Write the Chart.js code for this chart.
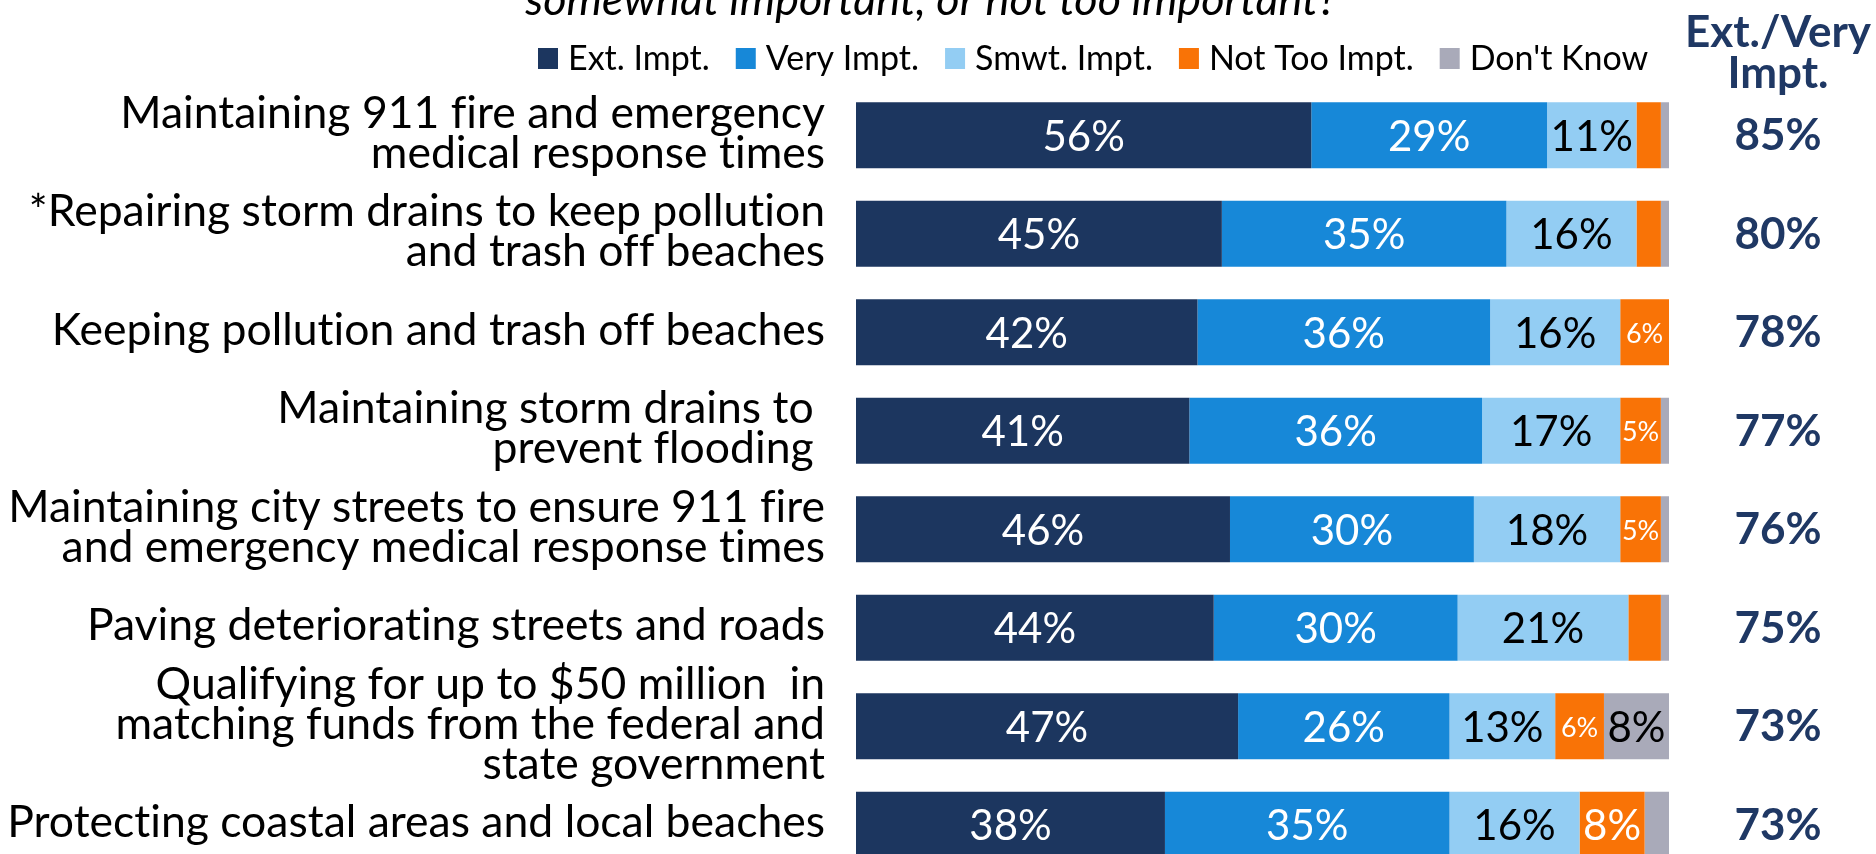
<!DOCTYPE html>
<html>
<head>
<meta charset="utf-8">
<script src="https://cdn.jsdelivr.net/npm/chart.js@4"></script>
<style>
  html, body { margin: 0; padding: 0; background: #fff; overflow: hidden; }
  #wrap { width: 1876px; height: 854px; overflow: hidden; }
</style>
</head>
<body>
<div id="wrap"><canvas id="chart" width="1876" height="880"></canvas></div>
<script>
// values
const categories = [
  ['Maintaining 911 fire and emergency', 'medical response times'],
  ['*Repairing storm drains to keep pollution', 'and trash off beaches'],
  ['Keeping pollution and trash off beaches'],
  ['Maintaining storm drains to ', 'prevent flooding '],
  ['Maintaining city streets to ensure 911 fire', 'and emergency medical response times'],
  ['Paving deteriorating streets and roads'],
  ['Qualifying for up to $50 million  in', 'matching funds from the federal and', 'state government'],
  ['Protecting coastal areas and local beaches'],
];
const seriesNames = ['Ext. Impt.', 'Very Impt.', 'Smwt. Impt.', 'Not Too Impt.', "Don't Know"];
const extImpt    = [56, 45, 42, 41, 46, 44, 47, 38];
const veryImpt   = [29, 35, 36, 36, 30, 30, 26, 35];
const smwtImpt   = [11, 16, 16, 17, 18, 21, 13, 16];
const notTooImpt = [3, 3, 6, 5, 5, 4, 6, 8];
const dontKnow   = [1, 1, 0, 1, 1, 1, 8, 3];
const extVeryTotal = [85, 80, 78, 77, 76, 75, 73, 73];
const titleText = 'somewhat important, or not too important?';
const sideHeader = ['Ext./Very', 'Impt.'];

const seriesValues = [extImpt, veryImpt, smwtImpt, notTooImpt, dontKnow];
const seriesColors = ['#1C365F', '#1788D8', '#93CDF3', '#F97306', '#A9AAB9'];
const labelColors  = ['#ffffff', '#ffffff', '#000000', '#ffffff', '#000000'];
const NAVY = '#1F3864';
const FONT = 'Lato, "Open Sans", sans-serif';

// draws title, legend, category labels, bar values and the right-hand totals
const slideText = {
  id: 'slideText',
  afterDatasetsDraw(chart) {
    const { ctx, scales: { y } } = chart;
    ctx.save();
    ctx.textRendering = 'optimizeSpeed'; // no "ti"/"ff" ligatures

    // cut-off question line at the very top
    ctx.fillStyle = '#000';
    ctx.font = `italic 45px ${FONT}`;
    ctx.textAlign = 'center';
    ctx.textBaseline = 'alphabetic';
    ctx.fillText(titleText, 931, 15);

    // legend row
    ctx.font = `34px ${FONT}`;
    ctx.textAlign = 'left';
    ctx.textBaseline = 'middle';
    let lx = 538;
    seriesNames.forEach((name, i) => {
      ctx.fillStyle = seriesColors[i];
      ctx.fillRect(lx, 48, 20, 21);
      ctx.fillStyle = '#000';
      ctx.fillText(name, lx + 30, 59);
      lx += 30 + ctx.measureText(name).width + 26;
    });

    // side header
    ctx.fillStyle = NAVY;
    ctx.font = `bold 44px ${FONT}`;
    ctx.textAlign = 'center';
    ctx.fillText(sideHeader[0], 1778, 33);
    ctx.fillText(sideHeader[1], 1778, 74);

    // category labels
    ctx.font = `44.5px ${FONT}`;
    ctx.textAlign = 'right';
    ctx.fillStyle = '#000';
    const lh = 40;
    categories.forEach((lines, i) => {
      const cy = y.getPixelForValue(i);
      const y0 = cy - (lines.length - 1) * lh / 2 - 2;
      lines.forEach((ln, k) => ctx.fillText(ln, 825, y0 + k * lh));
    });

    // totals column
    ctx.font = `bold 44px ${FONT}`;
    ctx.textAlign = 'center';
    ctx.fillStyle = NAVY;
    extVeryTotal.forEach((v, i) => {
      ctx.fillText(v + '%', 1778, y.getPixelForValue(i) + 1);
    });

    // values inside segments
    ctx.textAlign = 'center';
    seriesValues.forEach((vals, d) => {
      const meta = chart.getDatasetMeta(d);
      meta.data.forEach((el, i) => {
        const v = vals[i];
        if (v < 5) return;
        ctx.font = v >= 8 ? `42px ${FONT}` : `27px ${FONT}`;
        ctx.fillStyle = labelColors[d];
        ctx.fillText(v + '%', (el.x + el.base) / 2, el.y + 2);
      });
    });

    ctx.restore();
  }
};

new Chart(document.getElementById('chart').getContext('2d'), {
  type: 'bar',
  data: {
    labels: categories.map((c) => c.join(' ')),
    datasets: seriesValues.map((vals, i) => ({
      label: seriesNames[i],
      data: vals,
      backgroundColor: seriesColors[i],
      borderWidth: 0,
      barPercentage: 0.67,
      categoryPercentage: 1,
    })),
  },
  options: {
    indexAxis: 'y',
    responsive: false,
    animation: false,
    devicePixelRatio: 1,
    layout: { padding: { left: 856, right: 207, top: 86, bottom: 6 } },
    plugins: { legend: { display: false }, tooltip: { enabled: false } },
    scales: {
      x: { stacked: true, min: 0, max: 100, display: false },
      y: { stacked: true, display: false },
    },
  },
  plugins: [slideText],
});
</script>
</body>
</html>
